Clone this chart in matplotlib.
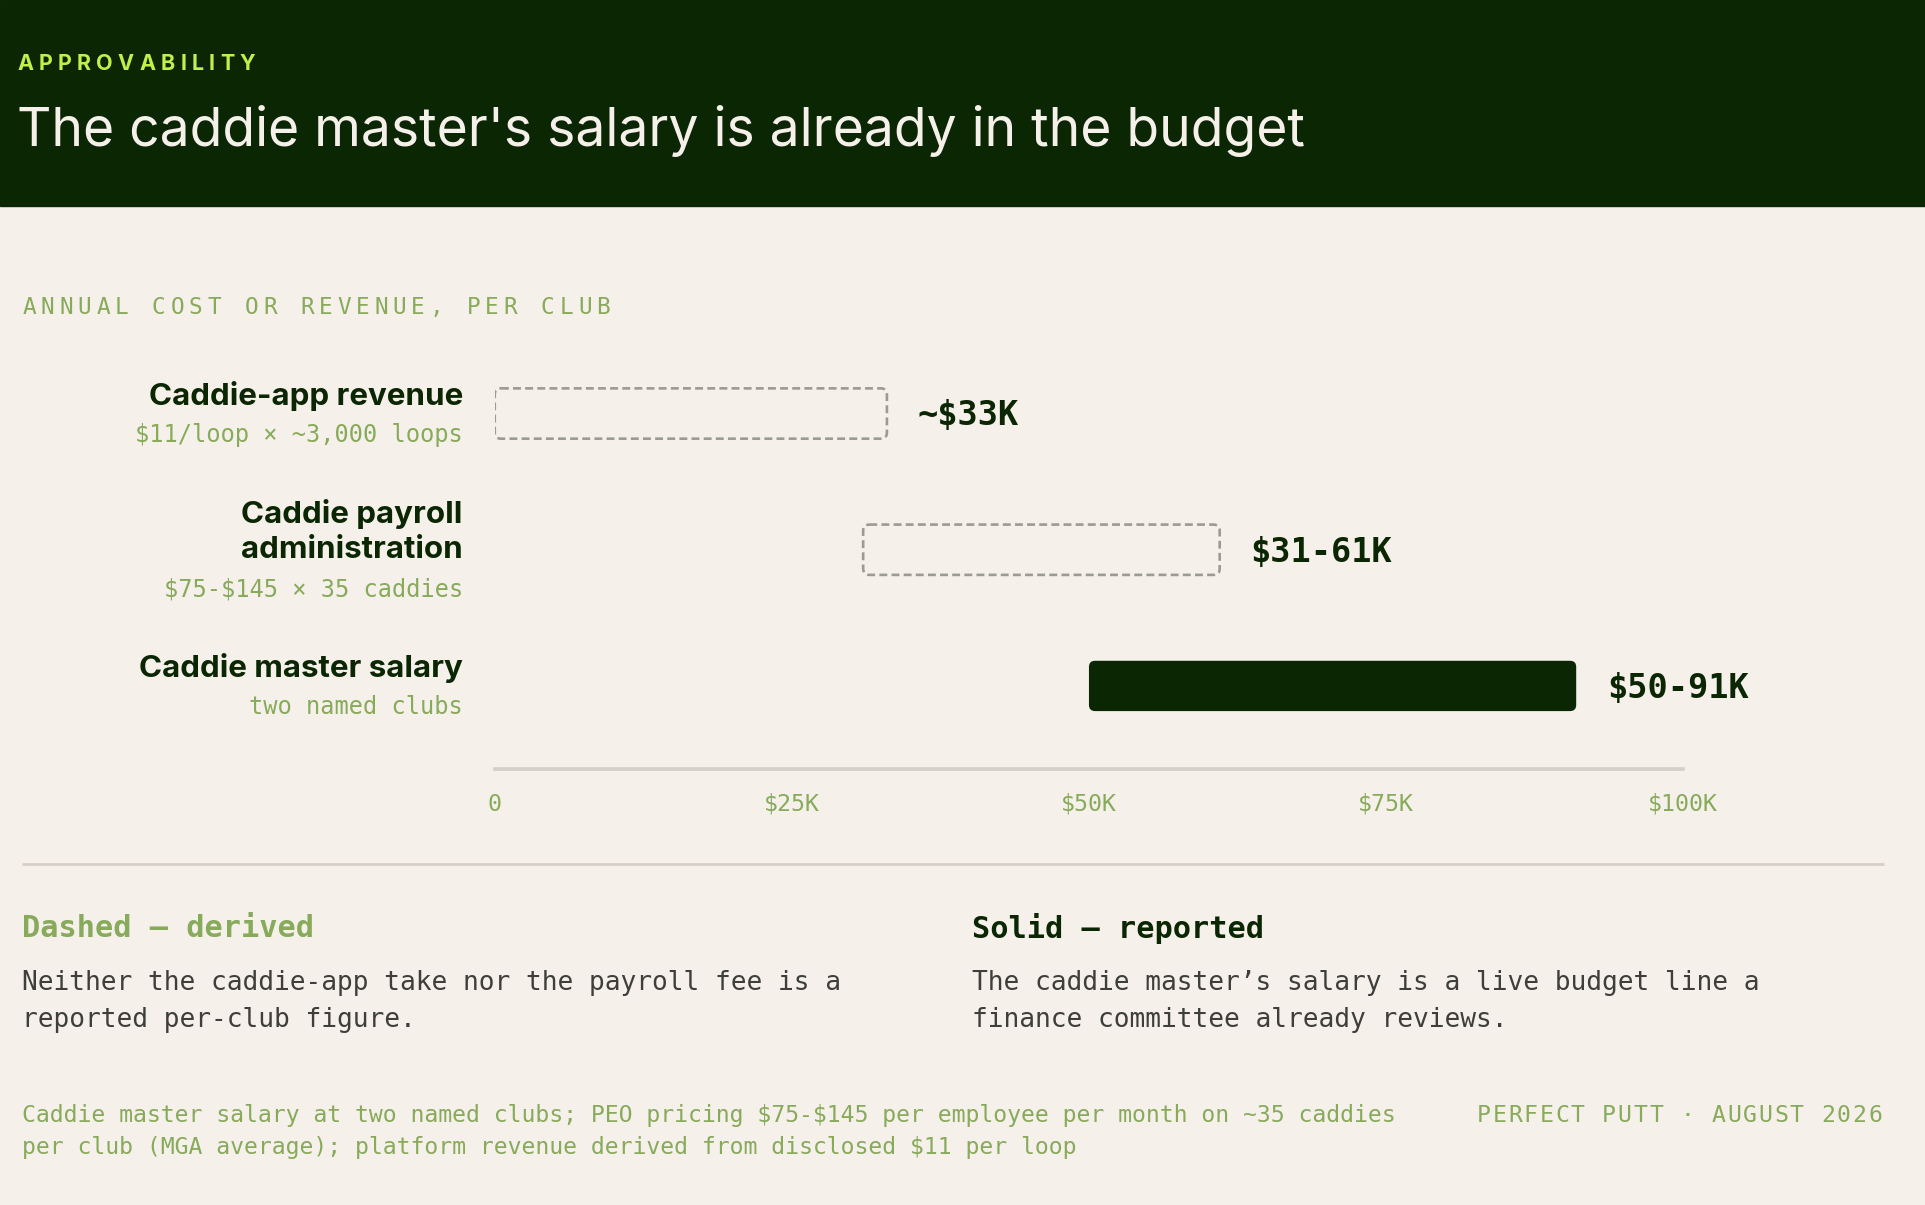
import matplotlib
matplotlib.use("Agg")
import matplotlib.pyplot as plt
from matplotlib.patches import Rectangle, FancyBboxPatch

plt.rcParams["text.parse_math"] = False

# chart values
categories = ["Caddie-app revenue", "Caddie payroll\nadministration", "Caddie master salary"]
sublabels = ["$11/loop × ~3,000 loops", "$75-$145 × 35 caddies", "two named clubs"]
low = [0, 31000, 50000]
high = [33000, 61000, 91000]
value_labels = ["~$33K", "$31-61K", "$50-91K"]
derived = [True, True, False]
ticks = [0, 25000, 50000, 75000, 100000]
tick_labels = ["0", "$25K", "$50K", "$75K", "$100K"]

# layout is measured on a 1568 x 982 grid and scaled to the output size
W, H = 1568, 982
S = 1925 / W


def fs(px):
    # font size in points from a height in layout px
    return px * S * 0.72


DARK = "#0b2602"
CREAM = "#f6f0ea"
LIME = "#c2f04a"
GREEN = "#87aa5b"
GREY = "#3e3e3a"
RULE = "#d4cfc7"
DASH = "#9b9b93"
SANS = ["Inter", "DejaVu Sans"]
MONO = ["DejaVu Sans Mono"]

fig = plt.figure(figsize=(19.25, 12.05), dpi=100)
fig.patch.set_facecolor(CREAM)

bg = fig.add_axes([0, 0, 1, 1])
bg.set_xlim(0, W)
bg.set_ylim(H, 0)
bg.axis("off")
bg.add_patch(Rectangle((0, 0), W, 168, color=DARK, zorder=0))

renderer = fig.canvas.get_renderer()


def spaced(x0, x1, y, s, **kw):
    # draw characters one by one so the run fills x0..x1 (letter spacing)
    parts = []
    widths = []
    for ch in s:
        t = bg.text(0, y, ch, va="center", ha="left", **kw)
        w = t.get_window_extent(renderer).width / S
        parts.append(t)
        widths.append(w)
    gap = (x1 - x0 - sum(widths)) / (len(s) - 1)
    x = x0
    for t, w in zip(parts, widths):
        t.set_x(x)
        x += w + gap


spaced(14, 208, 52, "APPROVABILITY", color=LIME, fontsize=fs(17.5),
       fontweight="bold", family=SANS)
bg.text(14, 107, "The caddie master's salary is already in the budget", color=CREAM,
        fontsize=fs(43.5), family=SANS, va="center", ha="left")

spaced(18, 497, 251, "ANNUAL COST OR REVENUE, PER CLUB", color=GREEN,
       fontsize=fs(18.5), family=MONO)

# bar chart
ax = fig.add_axes([403 / W, 1 - 627 / H, (1371 - 403) / W, (627 - 290) / H])
ax.set_facecolor("none")
rows = list(range(len(categories)))
ax.set_xlim(0, 100000)
ax.set_ylim(2 + 68 / 111, -47 / 111)

widths = [h - l for l, h in zip(low, high)]
bars = ax.barh(rows, widths, left=low, height=41 / 111)

px_x = 100000 / 968  # data units per layout px
px_y = 1 / 111
for bar, d in zip(bars, derived):
    bar.set_visible(False)
    kw = dict(boxstyle="round,pad=0,rounding_size=%f" % (5 * px_x),
              mutation_aspect=px_y / px_x)
    if d:
        p = FancyBboxPatch((bar.get_x(), bar.get_y()), bar.get_width(), bar.get_height(),
                           facecolor="none", edgecolor=DASH, lw=1.9,
                           linestyle=(0, (3, 1.6)), **kw)
    else:
        p = FancyBboxPatch((bar.get_x(), bar.get_y()), bar.get_width(), bar.get_height(),
                           facecolor=DARK, edgecolor="none", **kw)
    ax.add_patch(p)

for r, h, lab in zip(rows, high, value_labels):
    ax.annotate(lab, (h, r), xytext=(fs(25), -fs(2)), textcoords="offset points",
                va="center", ha="left", fontsize=fs(27.4), fontweight="bold",
                color=DARK, family=MONO)

for r, cat, sub in zip(rows, categories, sublabels):
    lines = cat.split("\n")
    ys = [30 * i for i in range(len(lines))]
    sub_y = ys[-1] + 32
    shift = 1.5 - (ys[0] + sub_y) / 2
    for line, yy in zip(lines, ys):
        ax.annotate(line, (0, r), xytext=(-fs(26), -fs(yy + shift)), textcoords="offset points",
                    va="center", ha="right", fontsize=fs(25.5), fontweight="bold",
                    color=DARK, family=SANS, annotation_clip=False)
    ax.annotate(sub, (0, r), xytext=(-fs(26), -fs(sub_y + shift)), textcoords="offset points",
                va="center", ha="right", fontsize=fs(19.3), color=GREEN, family=MONO,
                annotation_clip=False)

for side in ["top", "right", "left"]:
    ax.spines[side].set_visible(False)
ax.spines["bottom"].set_color(RULE)
ax.spines["bottom"].set_linewidth(fs(3))
ax.set_yticks([])
ax.set_xticks(ticks)
ax.set_xticklabels(tick_labels, family=MONO, fontsize=fs(19), color=GREEN)
ax.tick_params(axis="x", length=0, pad=fs(19))

# legend notes
bg.plot([18, 1535], [704, 704], color=RULE, lw=fs(2.2), solid_capstyle="butt")
bg.text(18, 757, "Dashed — derived", color=GREEN, fontsize=fs(24.6), fontweight="bold",
        family=MONO, va="center", ha="left")
bg.text(792, 757, "Solid — reported", color=DARK, fontsize=fs(24.6), fontweight="bold",
        family=MONO, va="center", ha="left")
note_left = ["Neither the caddie-app take nor the payroll fee is a", "reported per-club figure."]
note_right = ["The caddie master’s salary is a live budget line a",
              "finance committee already reviews."]
for i, (a, b) in enumerate(zip(note_left, note_right)):
    bg.text(18, 801 + 30 * i, a, color=GREY, fontsize=fs(21.4), family=MONO,
            va="center", ha="left")
    bg.text(792, 801 + 30 * i, b, color=GREY, fontsize=fs(21.4), family=MONO,
            va="center", ha="left")

source = ["Caddie master salary at two named clubs; PEO pricing $75-$145 per employee per month on ~35 caddies",
          "per club (MGA average); platform revenue derived from disclosed $11 per loop"]
for i, line in enumerate(source):
    bg.text(18, 909 + 26 * i, line, color=GREEN, fontsize=fs(18.8), family=MONO,
            va="center", ha="left")
spaced(1203, 1533, 909, "PERFECT PUTT · AUGUST 2026", color=GREEN, fontsize=fs(18.8),
       family=MONO)

fig.savefig("out.png", dpi=100, facecolor=CREAM)
